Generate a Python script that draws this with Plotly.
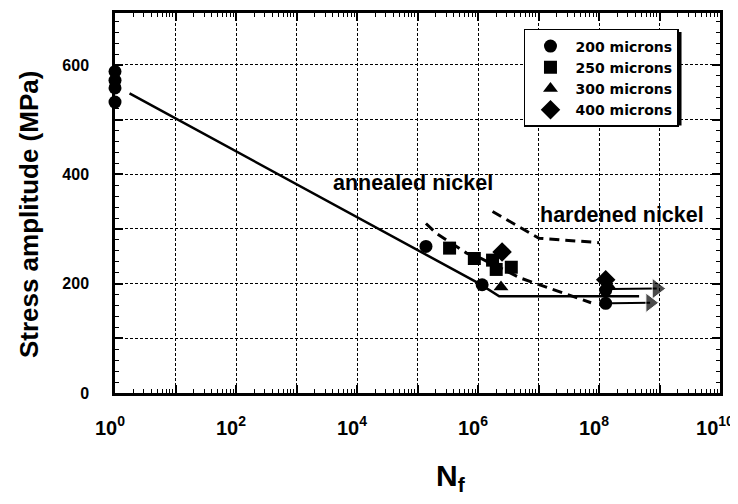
import plotly.graph_objects as go

# ---------------- data ----------------
# 200 microns (circles)
n_200 = [1, 1, 1, 1, 1.38e5, 1.17e6, 1.29e8, 1.29e8]
s_200 = [588, 572, 558, 532, 268, 198, 188, 164]
# 250 microns (squares)
n_250 = [3.39e5, 8.7e5, 1.74e6, 2.0e6, 3.55e6]
s_250 = [265, 246, 243, 226, 230]
# 300 microns (triangles)
n_300 = [2.4e6, 1.41e8]
s_300 = [194, 198]
# 400 microns (diamonds)
n_400 = [2.5e6, 1.29e8]
s_400 = [258, 207]

# solid fit line
fit_n = [1.74, 1.05e6, 2.24e6, 4.6e8]
fit_s = [548, 200, 177, 177]

# annealed nickel (dashed)
ann_n = [1.38e5, 2.04e5, 6.46e5, 1.12e6, 5.1e6, 1.62e7, 7.4e7]
ann_s = [310, 292, 256, 246, 210, 190, 165]

# hardened nickel (dashed)
hard_n = [1.74e6, 1.02e7, 1.0e8]
hard_s = [332, 283, 275]

# run-out arrows
run_top_n = [1.6e8, 9.0e8]
run_top_s = [190, 191]
run_bot_n = [1.6e8, 7.0e8]
run_bot_s = [164, 165]

series_names = ["200 microns", "250 microns", "300 microns", "400 microns"]

x_tickvals = [1e0, 1e1, 1e2, 1e3, 1e4, 1e5, 1e6, 1e7, 1e8, 1e9, 1e10]
x_ticktext = ["10<sup>0</sup>", "", "10<sup>2</sup>", "", "10<sup>4</sup>", "",
              "10<sup>6</sup>", "", "10<sup>8</sup>", "", "10<sup>10</sup>"]
y_tickvals = [0, 100, 200, 300, 400, 500, 600]
y_ticktext = ["0", "", "200", "", "400", "", "600"]

FONT = "Liberation Sans, Arial, Helvetica, sans-serif"
LEG_FONT = "DejaVu Sans, Liberation Sans, sans-serif"

fig = go.Figure()

fig.add_trace(go.Scatter(x=fit_n, y=fit_s, mode="lines",
                         line=dict(color="black", width=2.5), showlegend=False))
fig.add_trace(go.Scatter(x=ann_n, y=ann_s, mode="lines",
                         line=dict(color="black", width=3, dash="10px,6px"),
                         showlegend=False))
fig.add_trace(go.Scatter(x=hard_n, y=hard_s, mode="lines",
                         line=dict(color="black", width=3, dash="10px,6px"),
                         showlegend=False))
fig.add_trace(go.Scatter(x=run_top_n, y=run_top_s, mode="lines+markers",
                         line=dict(color="black", width=2),
                         marker=dict(symbol=["line-ns", "triangle-right"], size=[0, 18],
                                     color="black"),
                         showlegend=False, cliponaxis=False))
fig.add_trace(go.Scatter(x=run_bot_n, y=run_bot_s, mode="lines+markers",
                         line=dict(color="black", width=2),
                         marker=dict(symbol=["line-ns", "triangle-right"], size=[0, 17],
                                     color="black"),
                         showlegend=False, cliponaxis=False))

symbols = ["circle", "square", "triangle-up", "diamond"]
sizes = [13, 13, 13, 15]
for name, xs, ys, sym, sz in zip(series_names, [n_200, n_250, n_300, n_400],
                                 [s_200, s_250, s_300, s_400], symbols, sizes):
    fig.add_trace(go.Scatter(x=xs, y=ys, mode="markers", name=name,
                             marker=dict(symbol=sym, size=sz, color="black"),
                             cliponaxis=False))

# The page body has an 8px margin, so the figure is 8px smaller than the window.
fig.update_layout(
    width=730, height=496,
    margin=dict(l=107, r=18, t=5, b=111, autoexpand=False),
    paper_bgcolor="white", plot_bgcolor="white",
    font=dict(family=FONT, color="black"),
    showlegend=True,
    legend=dict(x=0.676, y=0.958, xanchor="left", yanchor="top",
                bgcolor="white", bordercolor="black", borderwidth=1.5,
                font=dict(size=14, family=LEG_FONT, weight="bold"),
                itemwidth=40),
    xaxis=dict(type="log", range=[0, 10], automargin=False,
               tickvals=x_tickvals, ticktext=x_ticktext,
               ticks="inside", ticklen=8, tickwidth=1.5, tickcolor="black",
               showline=True, linewidth=2.5, linecolor="black", mirror="allticks",
               showgrid=True, gridcolor="black", gridwidth=1.4, griddash="3px,2px",
               zeroline=False,
               tickfont=dict(size=20, family=FONT, weight="bold"),
               ticklabelstandoff=15, ticklabeloverflow="allow", ticklabelshift=-5,
               minor=dict(ticks="inside", ticklen=4, tickwidth=1, tickcolor="black",
                          dtick="D1", showgrid=False)),
    yaxis=dict(range=[0, 695], automargin=False,
               tickvals=y_tickvals, ticktext=y_ticktext,
               ticks="inside", ticklen=8, tickwidth=1.5, tickcolor="black",
               showline=True, linewidth=2.5, linecolor="black", mirror="allticks",
               showgrid=True, gridcolor="black", gridwidth=1.4, griddash="3px,2px",
               zeroline=False,
               tickfont=dict(size=16, family=FONT, weight="bold"),
               ticklabelstandoff=20,
               minor=dict(ticks="inside", ticklen=4, tickwidth=1, tickcolor="black",
                          dtick=20, showgrid=False)),
)

# drop shadow behind the legend box (legend is drawn on top of shapes)
fig.add_shape(type="rect", xref="paper", yref="paper",
              x0=0.681, x1=0.9364, y0=0.704, y1=0.95,
              fillcolor="black", line=dict(width=0), layer="above")

fig.add_annotation(text="annealed nickel", x=4.93, y=385, xref="x", yref="y",
                   showarrow=False, font=dict(size=21.5, family=FONT, weight="bold"))
fig.add_annotation(text="hardened nickel", x=8.38, y=326, xref="x", yref="y",
                   showarrow=False, font=dict(size=21.5, family=FONT, weight="bold"))
fig.add_annotation(text="Stress amplitude (MPa)", textangle=-90,
                   x=-0.142, y=0.471, xref="paper", yref="paper",
                   xanchor="center", yanchor="middle",
                   showarrow=False, font=dict(size=26, family=FONT, weight="bold"))
fig.add_annotation(text="N<sub>f</sub>", x=0.555, y=-0.276, xref="paper", yref="paper",
                   xanchor="center", yanchor="bottom",
                   showarrow=False, font=dict(size=30, family=FONT, weight="bold"))

fig.write_html("out.html")
